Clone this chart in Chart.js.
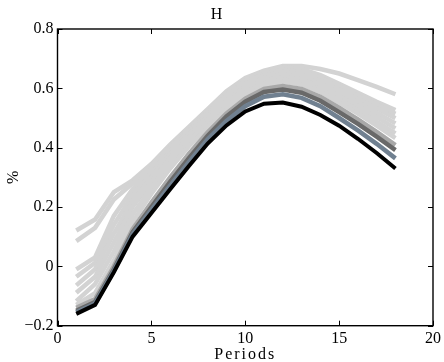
<!DOCTYPE html>
<html>
<head>
<meta charset="utf-8">
<script src="https://cdn.jsdelivr.net/npm/chart.js@4.4.1/dist/chart.umd.min.js"></script>
<style>
html,body{margin:0;padding:0;background:#fff;}
#c{display:block;}
</style>
</head>
<body>
<canvas id="c" width="444" height="362"></canvas>
<script>
// ---- data ----
const chartTitle = "H";
const xTitle = "Periods";
const yTitle = "%";
const periods = [1,2,3,4,5,6,7,8,9,10,11,12,13,14,15,16,17,18];
const xTicks = [0,5,10,15,20];
const yTicks = [-0.2,0,0.2,0.4,0.6,0.8];

const light1 = [0.121,0.158,0.25,0.29,0.345,0.41,0.47,0.53,0.59,0.635,0.66,0.675,0.675,0.665,0.65,0.628,0.605,0.58];
const light2 = [0.085,0.13,0.225,0.28,0.34,0.405,0.465,0.525,0.58,0.625,0.655,0.67,0.665,0.645,0.615,0.585,0.555,0.527];
const light3 = [-0.01,0.03,0.17,0.26,0.33,0.4,0.46,0.52,0.575,0.62,0.65,0.662,0.655,0.635,0.605,0.575,0.545,0.514];
const light4 = [-0.035,0.012,0.14,0.24,0.315,0.39,0.455,0.515,0.57,0.615,0.643,0.655,0.647,0.625,0.595,0.565,0.533,0.499];
const light5 = [-0.064,-0.01,0.11,0.22,0.3,0.38,0.445,0.505,0.56,0.607,0.635,0.647,0.638,0.615,0.584,0.552,0.518,0.482];
const light6 = [-0.089,-0.035,0.08,0.2,0.285,0.365,0.435,0.497,0.552,0.598,0.627,0.638,0.63,0.606,0.573,0.54,0.503,0.465];
const light7 = [-0.117,-0.06,0.05,0.175,0.265,0.35,0.42,0.485,0.54,0.587,0.617,0.63,0.621,0.597,0.562,0.527,0.488,0.448];
const light8 = [-0.13,-0.09,0.02,0.15,0.245,0.33,0.405,0.47,0.528,0.575,0.607,0.622,0.613,0.588,0.552,0.515,0.474,0.432];
const midGray = [-0.14,-0.11,0.0,0.125,0.215,0.3,0.38,0.452,0.515,0.565,0.598,0.608,0.598,0.572,0.535,0.495,0.453,0.409];
const darkGray = [-0.15,-0.12,-0.01,0.115,0.2,0.285,0.365,0.44,0.505,0.555,0.588,0.596,0.585,0.558,0.52,0.48,0.437,0.392];
const slate = [-0.155,-0.125,-0.015,0.108,0.19,0.272,0.352,0.428,0.49,0.54,0.572,0.58,0.568,0.54,0.5,0.458,0.413,0.364];
const black = [-0.16,-0.13,-0.02,0.1,0.18,0.26,0.338,0.414,0.475,0.522,0.548,0.552,0.538,0.51,0.474,0.43,0.382,0.33];

const seriesList = [
  {vals: light1, color:'#d3d3d3', w:4.5},
  {vals: light2, color:'#d3d3d3', w:4.5},
  {vals: light3, color:'#d3d3d3', w:4.5},
  {vals: light4, color:'#d3d3d3', w:4.5},
  {vals: light5, color:'#d3d3d3', w:4.5},
  {vals: light6, color:'#d3d3d3', w:4.5},
  {vals: light7, color:'#d3d3d3', w:4.5},
  {vals: light8, color:'#d3d3d3', w:4.5},
  {vals: midGray, color:'#a9a9a9', w:4.5},
  {vals: darkGray, color:'#696969', w:4.5},
  {vals: slate, color:'#708090', w:4.5},
  {vals: black, color:'#000000', w:4}
];

const FONT = "'Liberation Serif', 'DejaVu Serif', serif";

const datasets = seriesList.map((s, i) => ({
  data: periods.map((p, j) => ({x: p, y: s.vals[j]})),
  borderColor: s.color,
  borderWidth: s.w,
  pointRadius: 0,
  tension: 0,
  fill: false,
  order: seriesList.length - i
}));

const framePlugin = {
  id: 'frame',
  afterLayout(chart) {
    const sc = chart.scales.x;
    if (sc && !sc._spaced) {
      const orig = sc.drawTitle.bind(sc);
      sc.drawTitle = function () {
        this.ctx.save();
        this.ctx.letterSpacing = '2px';
        orig();
        this.ctx.restore();
      };
      sc._spaced = true;
    }
  },
  afterDatasetsDraw(chart) {
    const {ctx, chartArea: a, scales: {x, y}} = chart;
    ctx.save();
    ctx.strokeStyle = '#000';
    ctx.lineWidth = 1;
    ctx.beginPath();
    xTicks.forEach(v => {
      const px = Math.round(x.getPixelForValue(v)) + 0.5;
      ctx.moveTo(px, a.bottom); ctx.lineTo(px, a.bottom - 5);
      ctx.moveTo(px, a.top); ctx.lineTo(px, a.top + 5);
    });
    yTicks.forEach(v => {
      const py = Math.round(y.getPixelForValue(v)) + 0.5;
      ctx.moveTo(a.left, py); ctx.lineTo(a.left + 5, py);
      ctx.moveTo(a.right, py); ctx.lineTo(a.right - 5, py);
    });
    ctx.stroke();
    ctx.lineWidth = 1.4;
    ctx.strokeRect(a.left, a.top, a.right - a.left, a.bottom - a.top);
    ctx.restore();
  }
};

new Chart(document.getElementById('c'), {
  type: 'line',
  data: { datasets },
  options: {
    responsive: false,
    devicePixelRatio: 1,
    animation: false,
    layout: { padding: { left: 0, right: 10.7, top: 0, bottom: 0 } },
    plugins: {
      legend: { display: false },
      tooltip: { enabled: false },
      title: {
        display: true,
        text: chartTitle,
        color: '#000',
        font: { family: FONT, size: 16, weight: 'normal', lineHeight: 1.2 },
        padding: { top: 5.5, bottom: 4.3 }
      }
    },
    scales: {
      x: {
        type: 'linear',
        min: 0, max: 20,
        afterBuildTicks: s => { s.ticks = xTicks.map(v => ({value: v})); },
        afterFit: s => { s.height = 36.3; },
        grid: { display: false, drawTicks: false },
        border: { display: false },
        ticks: { color: '#000', font: { family: FONT, size: 16 }, padding: 3, maxRotation: 0 },
        title: { display: true, text: xTitle, color: '#000', font: { family: FONT, size: 16, lineHeight: 1.2 }, padding: { top: 0, bottom: -2 } }
      },
      y: {
        type: 'linear',
        min: -0.2, max: 0.8,
        afterBuildTicks: s => { s.ticks = yTicks.map(v => ({value: v})); },
        afterFit: s => { s.width = 57.5; },
        grid: { display: false, drawTicks: false },
        border: { display: false },
        ticks: {
          color: '#000', font: { family: FONT, size: 16 }, padding: 4,
          callback: v => (Math.abs(v) < 1e-9 ? '0' : v.toFixed(1).replace('-', '\u2212'))
        },
        title: { display: true, text: yTitle, color: '#000', font: { family: FONT, size: 16, lineHeight: 1.2 }, padding: { top: 4, bottom: 0 } }
      }
    }
  },
  plugins: [framePlugin]
});
</script>
</body>
</html>
